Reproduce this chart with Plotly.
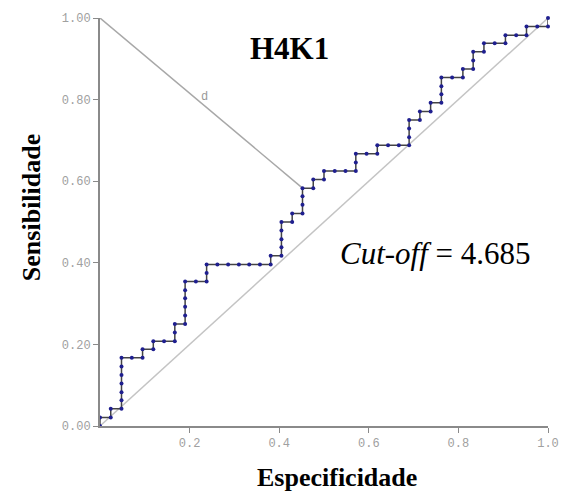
import plotly.graph_objects as go

# ROC points (1 - specificity on x, sensitivity on y)
spec = [0, 0, .024, .024, .048, .048, .048, .048, .048, .048, .048, .071, .095, .095, .119, .119,
        .143, .167, .167, .167, .190, .190, .190, .190, .190, .190, .214, .238, .238, .238, .262,
        .286, .310, .333, .357, .381, .381, .405, .405, .405, .405, .405, .429, .429, .452, .452,
        .452, .452, .476, .476, .500, .500, .524, .548, .571, .571, .571, .595, .619, .619, .643,
        .667, .690, .690, .690, .690, .714, .714, .738, .738, .762, .762, .762, .762, .786, .810,
        .810, .833, .833, .833, .857, .857, .881, .905, .905, .929, .952, .952, .976, 1, 1]
sens = [0, .021, .021, .042, .042, .063, .083, .104, .125, .146, .167, .167, .167, .188, .188, .208,
        .208, .208, .229, .250, .250, .271, .292, .313, .333, .354, .354, .354, .375, .396, .396,
        .396, .396, .396, .396, .396, .417, .417, .438, .458, .479, .500, .500, .521, .521, .542,
        .563, .583, .583, .604, .604, .625, .625, .625, .625, .646, .667, .667, .667, .688, .688,
        .688, .688, .708, .729, .750, .750, .771, .771, .792, .792, .813, .833, .854, .854, .854,
        .875, .875, .896, .917, .917, .938, .938, .938, .958, .958, .958, .979, .979, .979, 1]

diag_x = [0, 1]
diag_y = [0, 1]
cut_x = 0.452
cut_y = 0.583
corner_x = 0
corner_y = 1

xticks = [0.2, 0.4, 0.6, 0.8, 1.0]
xtick_text = ["0.2", "0.4", "0.6", "0.8", "1.0"]
yticks = [0.0, 0.2, 0.4, 0.6, 0.8, 1.0]
ytick_text = ["0.00", "0.20", "0.40", "0.60", "0.80", "1.00"]

title_text = "H4K1"
cutoff_text = "<i>Cut-off</i> = 4.685"
xlabel = "Especificidade"
ylabel = "Sensibilidade"

fig = go.Figure()
fig.add_trace(go.Scatter(x=diag_x, y=diag_y, mode="lines",
                         line=dict(color="#c4c4c4", width=1.5), hoverinfo="skip"))
fig.add_trace(go.Scatter(x=[corner_x, cut_x], y=[corner_y, cut_y], mode="lines",
                         line=dict(color="#a8a8a8", width=1.5), hoverinfo="skip"))
fig.add_trace(go.Scatter(x=spec, y=sens, mode="lines+markers",
                         line=dict(color="#444444", width=1.5),
                         marker=dict(color="#1f1f8f", size=4),
                         cliponaxis=False))

fig.add_annotation(x=(corner_x + cut_x) / 2 + 0.008, y=(corner_y + cut_y) / 2 + 0.015,
                   xref="x", yref="y", text="d", showarrow=False,
                   xanchor="center", yanchor="middle",
                   font=dict(family="Liberation Mono", size=12, color="#999999"))
fig.add_annotation(x=0.424, y=0.925, xref="x", yref="y", text="<b>%s</b>" % title_text,
                   showarrow=False, xanchor="center", yanchor="middle",
                   font=dict(family="Liberation Serif", size=31, color="black"))
fig.add_annotation(x=0.748, y=0.422, xref="x", yref="y", text=cutoff_text,
                   showarrow=False, xanchor="center", yanchor="middle",
                   font=dict(family="Liberation Serif", size=31, color="black"))
fig.add_annotation(x=0.529, y=-0.127, xref="paper", yref="paper", text="<b>%s</b>" % xlabel,
                   showarrow=False, xanchor="center", yanchor="middle",
                   font=dict(family="Liberation Serif", size=26, color="black"))
fig.add_annotation(x=-0.154, y=0.534, xref="paper", yref="paper", text="<b>%s</b>" % ylabel,
                   textangle=-90, showarrow=False, xanchor="center", yanchor="middle",
                   font=dict(family="Liberation Serif", size=26, color="black"))

axis_common = dict(showgrid=False, zeroline=False, showline=True, linecolor="#8a8a8a",
                   linewidth=2, ticks="outside", ticklen=5, tickcolor="#8a8a8a", tickwidth=1,
                   tickfont=dict(family="Liberation Mono", size=12, color="#a0a0a0"),
                   range=[0, 1], fixedrange=True, automargin=False)
fig.update_xaxes(**axis_common, tickvals=xticks, ticktext=xtick_text)
fig.update_yaxes(**axis_common, tickvals=yticks, ticktext=ytick_text)

fig.update_layout(width=565, height=493, showlegend=False, autosize=False,
                  margin=dict(l=100, r=17, t=18, b=67, autoexpand=False),
                  paper_bgcolor="white", plot_bgcolor="white")

post = ("document.body.style.margin='0';document.body.style.overflow='hidden';"
        "var gd=document.getElementById('{plot_id}');"
        "Plotly.relayout(gd,{width:565,height:493});")
fig.write_html("out.html", config={"displayModeBar": False, "responsive": False},
               post_script=post)
